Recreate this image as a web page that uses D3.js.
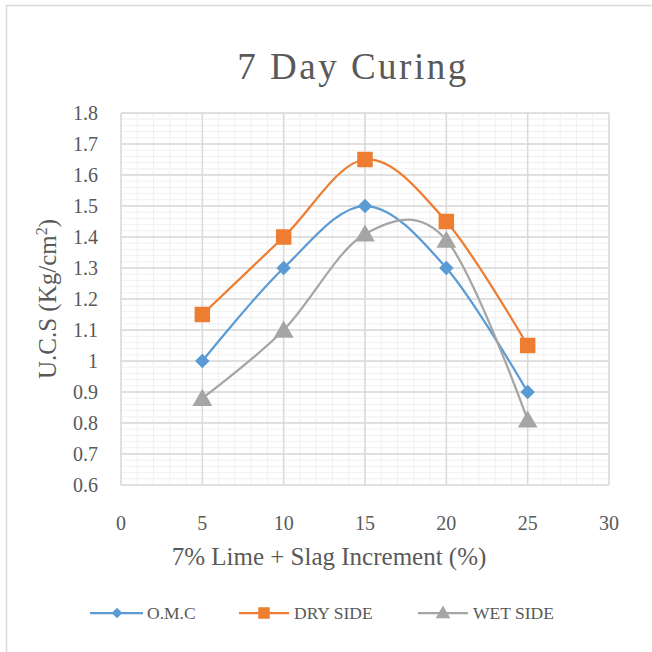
<!DOCTYPE html>
<html lang="en">
<head>
    <meta charset="UTF-8">
    <title>7 Day Curing</title>
    <script src="https://d3js.org/d3.v7.min.js"></script>
    <style>
        body { margin: 0; background: #fff; }
        text { font-family: "Liberation Serif", "Times New Roman", serif; fill: #595959; }
    </style>
</head>
<body>
    <svg id="chart" width="652" height="652"></svg>
    <script>
        // data
        var xValues = [5, 10, 15, 20, 25];
        var omc = [1.0, 1.3, 1.5, 1.3, 0.9];
        var drySide = [1.15, 1.4, 1.65, 1.45, 1.05];
        var wetSide = [0.88, 1.1, 1.41, 1.39, 0.81];
        var seriesNames = ["O.M.C", "DRY SIDE", "WET SIDE"];
        var xTicks = [0, 5, 10, 15, 20, 25, 30];
        var yTicks = [0.6, 0.7, 0.8, 0.9, 1.0, 1.1, 1.2, 1.3, 1.4, 1.5, 1.6, 1.7, 1.8];

        var colors = ["#5B9BD5", "#ED7D31", "#A5A5A5"];
        // diamond = square turned 45 degrees (Excel style)
        var symbols = [d3.symbolSquare, d3.symbolSquare, d3.symbolTriangle];
        var rotations = [45, 0, 0];
        var symSizes = [105, 240, 170];
        var series = [omc, drySide, wetSide];

        var svg = d3.select("#chart");

        // outer chart border (right/bottom fall outside the picture)
        svg.append("rect")
            .attr("x", 6.5).attr("y", 5.5)
            .attr("width", 700).attr("height", 700)
            .attr("fill", "none").attr("stroke", "#d9d9d9").attr("stroke-width", 1.5);

        var pLeft = 121, pRight = 609, pTop = 113, pBottom = 485;
        var x = d3.scaleLinear().domain([0, 30]).range([pLeft, pRight]);
        var y = d3.scaleLinear().domain([0.6, 1.8]).range([pBottom, pTop]);

        var g = svg.append("g");

        // minor grid
        g.selectAll(".minor-x")
            .data(d3.range(0, 31, 1))
            .enter().append("line")
            .attr("x1", d => x(d)).attr("x2", d => x(d))
            .attr("y1", pTop).attr("y2", pBottom)
            .attr("stroke", "#f0f0f0").attr("stroke-width", 1);
        g.selectAll(".minor-y")
            .data(d3.range(0, 61).map(i => 0.6 + i * 0.02))
            .enter().append("line")
            .attr("x1", pLeft).attr("x2", pRight)
            .attr("y1", d => y(d)).attr("y2", d => y(d))
            .attr("stroke", "#f0f0f0").attr("stroke-width", 1);

        // major grid
        g.selectAll(".major-x")
            .data(xTicks)
            .enter().append("line")
            .attr("x1", d => x(d)).attr("x2", d => x(d))
            .attr("y1", pTop).attr("y2", pBottom)
            .attr("stroke", "#d9d9d9").attr("stroke-width", 1.5);
        g.selectAll(".major-y")
            .data(yTicks)
            .enter().append("line")
            .attr("x1", pLeft).attr("x2", pRight)
            .attr("y1", d => y(d)).attr("y2", d => y(d))
            .attr("stroke", "#d9d9d9").attr("stroke-width", 1.5);

        // tick labels
        svg.selectAll(".ylab")
            .data(yTicks)
            .enter().append("text")
            .attr("x", 98).attr("y", d => y(d) + 7)
            .attr("text-anchor", "end")
            .style("font-size", "20px")
            .text(d => d3.format("~g")(+d.toFixed(1)));
        svg.selectAll(".xlab")
            .data(xTicks)
            .enter().append("text")
            .attr("x", d => x(d)).attr("y", 530)
            .attr("text-anchor", "middle")
            .style("font-size", "20px")
            .text(d => d);

        // titles
        svg.append("text")
            .attr("x", 353).attr("y", 79)
            .attr("text-anchor", "middle")
            .style("font-size", "37px")
            .style("letter-spacing", "2.5px")
            .text("7 Day Curing");

        svg.append("text")
            .attr("x", 329).attr("y", 565)
            .attr("text-anchor", "middle")
            .style("font-size", "25px")
            .text("7% Lime + Slag Increment (%)");

        var yt = svg.append("text")
            .attr("transform", "translate(56,299) rotate(-90)")
            .attr("text-anchor", "middle")
            .style("font-size", "25px");
        yt.append("tspan").text("U.C.S (Kg/cm");
        yt.append("tspan").attr("dy", -9).style("font-size", "16px").text("2");
        yt.append("tspan").attr("dy", 9).text(")");

        // lines and markers
        var line = d3.line()
            .x((d, i) => x(xValues[i]))
            .y(d => y(d))
            .curve(d3.curveCardinal.tension(0));

        series.forEach(function (s, k) {
            svg.append("path")
                .attr("d", line(s))
                .attr("fill", "none")
                .attr("stroke", colors[k])
                .attr("stroke-width", 2.25);
        });
        series.forEach(function (s, k) {
            svg.selectAll(".m" + k)
                .data(s)
                .enter().append("path")
                .attr("transform", (d, i) => "translate(" + x(xValues[i]) + "," + (y(d) + (k === 2 ? 2 : 0)) + ") rotate(" + rotations[k] + ")")
                .attr("d", d3.symbol().type(symbols[k]).size(symSizes[k]))
                .attr("fill", colors[k]);
        });

        // legend
        var legendX = [90, 239, 418];
        var legend = svg.selectAll(".legend")
            .data(seriesNames)
            .enter().append("g")
            .attr("transform", (d, i) => "translate(" + legendX[i] + ",613)");
        legend.append("line")
            .attr("x1", 0).attr("x2", (d, i) => i === 0 ? 53 : 50)
            .attr("stroke", (d, i) => colors[i]).attr("stroke-width", 2.25);
        legend.append("path")
            .attr("transform", (d, i) => "translate(" + (i === 0 ? 27 : 25) + "," + (i === 2 ? 1 : 0) + ") rotate(" + rotations[i] + ")")
            .attr("d", (d, i) => d3.symbol().type(symbols[i]).size(symSizes[i] * 0.55)())
            .attr("fill", (d, i) => colors[i]);
        legend.append("text")
            .attr("x", (d, i) => i === 0 ? 57 : 55)
            .attr("y", 6)
            .style("font-size", "17.5px")
            .text(d => d);
    </script>
</body>
</html>
